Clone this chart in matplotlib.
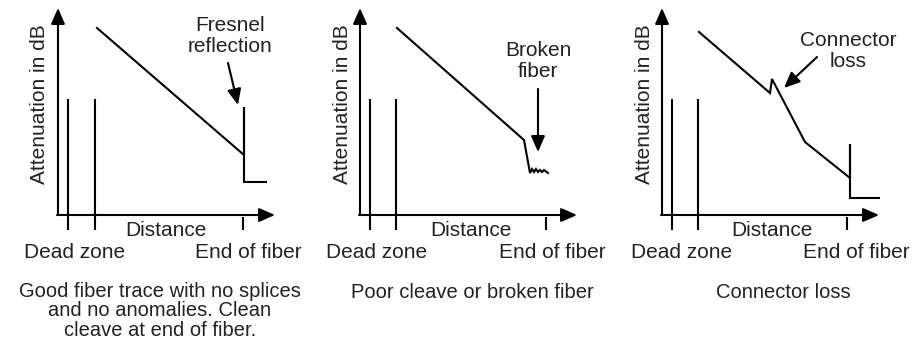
import matplotlib
matplotlib.use("Agg")
import matplotlib.pyplot as plt

plt.rcParams['font.family'] = ['Liberation Sans', 'DejaVu Sans']

# Trace shapes (distance, attenuation) for each OTDR panel
good_dist = [39, 186, 186, 186, 208]
good_att = [187, 60, 108, 33, 33]

broken_dist = [37, 164, 170, 172, 174, 176, 178, 180, 182, 184, 188]
broken_att = [187, 75, 42, 46, 43, 46, 43, 45, 43, 45, 42]

conn_dist = [37, 108, 110, 143, 188, 188, 188, 217]
conn_att = [183, 122, 136, 73, 37, 71, 17, 17]

event_labels = ["Fresnel\nreflection", "Broken\nfiber", "Connector\nloss"]
captions = ["Good fiber trace with no splices\nand no anomalies. Clean\ncleave at end of fiber.",
            "Poor cleave or broken fiber",
            "Connector loss"]

W, H = 913, 342
fig = plt.figure(figsize=(W / 100, H / 100), dpi=100)

FS = 15
TXT = '#222222'
LW = 1.5

panels = [
    dict(left=0, right=304, ox=58, dist=good_dist, att=good_att, dz=[10, 37], end=185,
         ev=(172, 179), arr=((170, 152), (180, 110)), dist_lbl=108, dz_lbl=17, end_lbl=190,
         cap=(102, -96)),
    dict(left=304, right=608, ox=360, dist=broken_dist, att=broken_att, dz=[10, 36], end=186,
         ev=(178, 154), arr=((178, 126), (178, 63)), dist_lbl=111, dz_lbl=17, end_lbl=192,
         cap=(112, -78)),
    dict(left=608, right=913, ox=662, dist=conn_dist, att=conn_att, dz=[10, 36], end=185,
         ev=(186, 164), arr=((155, 158), (122, 127)), dist_lbl=110, dz_lbl=20, end_lbl=194,
         cap=(121, -78)),
]

AX_TOP = 207   # y-axis arrow tip above the distance axis
AX_RIGHT = 217  # distance axis arrow tip

for i, p in enumerate(panels):
    ax = fig.add_axes([p['left'] / W, 0, (p['right'] - p['left']) / W, 1])
    ax.set_xlim(p['left'] - p['ox'], p['right'] - p['ox'])
    ax.set_ylim(215 - H, 215)
    ax.axis('off')

    arrow_kw = dict(arrowstyle='-|>,head_length=0.8,head_width=0.35', mutation_scale=12,
                    lw=LW, color='k', shrinkA=0, shrinkB=0)
    # axes
    ax.annotate('', xy=(0, AX_TOP), xytext=(0, 0), arrowprops=arrow_kw, annotation_clip=False)
    ax.annotate('', xy=(AX_RIGHT, 0), xytext=(-1, 0), arrowprops=arrow_kw, annotation_clip=False)

    # dead zone markers and end-of-fiber tick
    for x in p['dz']:
        ax.plot([x, x], [-15, 116], color='k', lw=LW, clip_on=False, solid_capstyle='butt')
    ax.plot([p['end'], p['end']], [-15, -2], color='k', lw=LW, clip_on=False, solid_capstyle='butt')

    # trace
    ax.plot(p['dist'], p['att'], color='k', lw=LW, clip_on=False, solid_joinstyle='miter')

    # event annotation
    ax.text(p['ev'][0], p['ev'][1], event_labels[i], ha='center', va='center', fontsize=FS,
            color=TXT, linespacing=1.08)
    ax.annotate('', xy=p['arr'][1], xytext=p['arr'][0], arrowprops=arrow_kw, annotation_clip=False)

    # labels
    ax.text(-18, 111, 'Attenuation in dB', rotation=90, ha='center', va='center', fontsize=FS, color=TXT)
    ax.text(p['dist_lbl'], -15, 'Distance', ha='center', va='center', fontsize=FS, color=TXT)
    ax.text(p['dz_lbl'], -38, 'Dead zone', ha='center', va='center', fontsize=FS, color=TXT)
    ax.text(p['end_lbl'], -38, 'End of fiber', ha='center', va='center', fontsize=FS, color=TXT)
    ax.text(p['cap'][0], p['cap'][1], captions[i], ha='center', va='center', fontsize=FS - 0.5,
            color=TXT, linespacing=1.05)

fig.savefig('out.png', dpi=100)
